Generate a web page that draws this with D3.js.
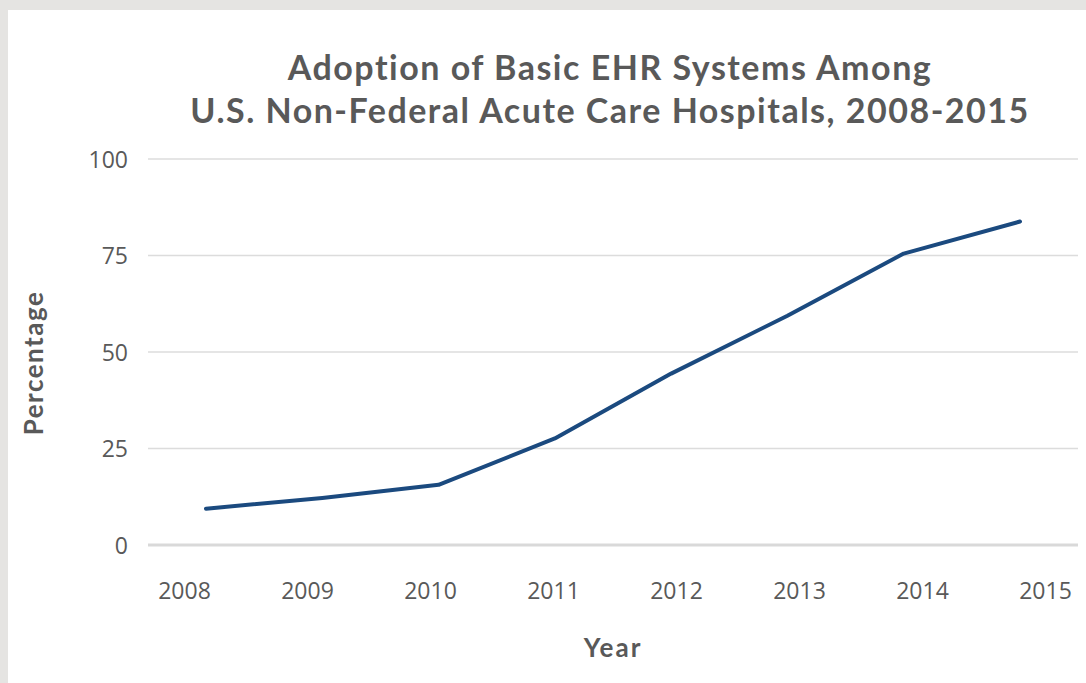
<!doctype html>
<html lang="en">
  <head>
    <meta charset="utf-8">
    <title>Adoption of Basic EHR Systems</title>
    <style>
    body {
      margin: 0;
      background: #e5e4e2;
    }
    #content {
      position: absolute;
      left: 8px;
      top: 10px;
      width: 1078px;
      height: 673px;
      background: #fff;
    }
    .tick text {
      font-family: "Open Sans", "Noto Sans", sans-serif;
      font-size: 23px;
      fill: #595959;
    }
    .title, .axis-title {
      font-family: Lato, sans-serif;
      font-weight: bold;
      fill: #595959;
      font-variant-ligatures: none;
    }
    </style>
  </head>
  <body>
    <div id="content"></div>

    <script src="https://d3js.org/d3.v7.min.js"></script>
    <script type="text/javascript">
    var w = 1078;
    var h = 673;

    // data (percent of hospitals with a basic EHR)
    var years = ['2008', '2009', '2010', '2011', '2012', '2013', '2014', '2015'];
    var adoption = [9.4, 12.2, 15.6, 27.6, 44.4, 59.4, 75.5, 83.8];
    var yTicks = [0, 25, 50, 75, 100];
    var titleLines = ['Adoption of Basic EHR Systems Among', 'U.S. Non-Federal Acute Care Hospitals, 2008-2015'];

    var svg = d3.select('#content')
                .append('svg')
                .attr('width', w)
                .attr('height', h);

    // plot area in svg coords (page offset is 8,10)
    var plotLeft = 140, plotRight = 1070, plotTop = 149, plotBottom = 535;

    var yScale = d3.scaleLinear()
                   .domain([0, 100])
                   .range([plotBottom, plotTop]);

    // labels sit on their own spacing, the line points a bit inset
    var xLabel = d3.scalePoint()
                   .domain(years)
                   .range([176, 1037]);

    var xData = d3.scalePoint()
                  .domain(years)
                  .range([198, 1012]);

    // gridlines
    svg.append('g')
      .selectAll('line')
      .data(yTicks)
      .join('line')
      .attr('x1', plotLeft)
      .attr('x2', plotRight)
      .attr('y1', d => yScale(d))
      .attr('y2', d => yScale(d))
      .attr('stroke', d => d === 0 ? '#d9d9d9' : '#dcdcdc')
      .attr('stroke-width', d => d === 0 ? 3 : 1.5);

    // y axis labels
    var yAxis = d3.axisLeft(yScale)
                  .tickValues(yTicks)
                  .tickSize(0)
                  .tickPadding(0);

    svg.append('g')
      .attr('class', 'y-axis')
      .attr('transform', 'translate(120, 0)')
      .call(yAxis)
      .call(g => g.select('.domain').remove())
      .selectAll('text')
      .attr('dy', '0.36em');

    // x axis labels
    var xAxis = d3.axisBottom(xLabel)
                  .tickSize(0)
                  .tickPadding(0);

    svg.append('g')
      .attr('class', 'x-axis')
      .attr('transform', 'translate(0, 573)')
      .call(xAxis)
      .call(g => g.select('.domain').remove())
      .selectAll('text')
      .attr('dy', '0.71em');

    var line = d3.line()
                 .x((d, i) => xData(years[i]))
                 .y(d => yScale(d));

    svg.append('path')
      .datum(adoption)
      .attr('d', line)
      .attr('fill', 'none')
      .attr('stroke', '#1b4a7f')
      .attr('stroke-width', 4)
      .attr('stroke-linecap', 'round')
      .attr('stroke-linejoin', 'round');

    // title
    svg.append('g')
      .selectAll('text')
      .data(titleLines)
      .join('text')
      .attr('class', 'title')
      .attr('x', 602)
      .attr('y', (d, i) => 70 + i * 43)
      .attr('text-anchor', 'middle')
      .style('font-size', '34px')
      .style('letter-spacing', '1.5px')
      .text(d => d);

    svg.append('text')
      .attr('class', 'axis-title')
      .attr('x', 605)
      .attr('y', 647)
      .attr('text-anchor', 'middle')
      .style('font-size', '26px')
      .style('letter-spacing', '2px')
      .text('Year');

    svg.append('text')
      .attr('class', 'axis-title')
      .attr('transform', 'translate(35, 353) rotate(-90)')
      .attr('text-anchor', 'middle')
      .style('font-size', '26px')
      .style('letter-spacing', '1.5px')
      .text('Percentage');
    </script>
  </body>
</html>
